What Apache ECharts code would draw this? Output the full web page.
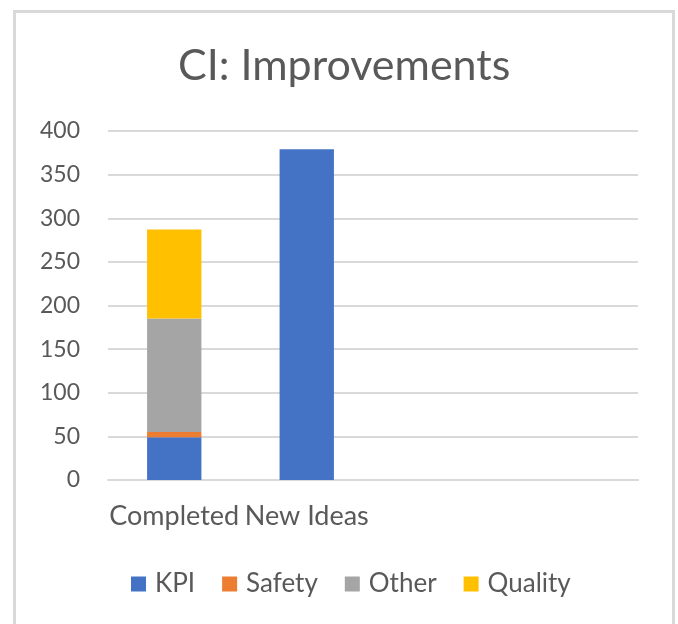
<!DOCTYPE html>
<html>
<head>
<meta charset="utf-8">
<script src="https://cdn.jsdelivr.net/npm/echarts@6/dist/echarts.min.js"></script>
<style>
html,body{margin:0;padding:0;background:#fff;}
#chart{width:678px;height:624px;}
</style>
</head>
<body>
<div id="chart"></div>
<script>
const categories = ['Completed', 'New Ideas', '', ''];
const kpi = [49, 379, null, null];
const safety = [6, null, null, null];
const other = [130, null, null, null];
const quality = [102, null, null, null];
const yTicks = {min: 0, max: 400, interval: 50};

const FONT = 'Lato';
const TXT = '#595959';
const chart = echarts.init(document.getElementById('chart'));
function bar(name, data, color) {
  return {
    name: name, type: 'bar', stack: 'total', data: data,
    barWidth: '41%',
    itemStyle: {color: color},
    emphasis: {disabled: true}
  };
}
chart.setOption({
  animation: false,
  textStyle: {fontFamily: FONT},
  graphic: [{
    type: 'rect', silent: true,
    shape: {x: 14.5, y: 11.5, width: 659, height: 700},
    style: {fill: 'none', stroke: '#d9d9d9', lineWidth: 3}
  }],
  title: {
    text: 'CI: Improvements', left: 173, top: 40,
    textStyle: {fontFamily: FONT, fontSize: 43, fontWeight: 'normal', color: TXT}
  },
  legend: {
    left: 126, top: 566, itemWidth: 15, itemHeight: 15, itemGap: 27,
    icon: 'rect',
    textStyle: {fontFamily: FONT, fontSize: 26, color: TXT, padding: [0, 0, 0, 4]},
    data: ['KPI', 'Safety', 'Other', 'Quality']
  },
  grid: {left: 108, right: 40, top: 131, bottom: 144},
  xAxis: {
    type: 'category', data: categories,
    axisLine: {lineStyle: {color: '#d9d9d9', width: 2}},
    axisTick: {show: false},
    axisLabel: {fontFamily: FONT, fontSize: 27, color: TXT, margin: 23, interval: 0}
  },
  yAxis: {
    type: 'value', min: yTicks.min, max: yTicks.max, interval: yTicks.interval,
    axisLine: {show: false}, axisTick: {show: false},
    splitLine: {lineStyle: {color: '#d9d9d9', width: 2}},
    axisLabel: {fontFamily: FONT, fontSize: 23, color: TXT, margin: 28}
  },
  series: [
    bar('KPI', kpi, '#4472c4'),
    bar('Safety', safety, '#ed7d31'),
    bar('Other', other, '#a5a5a5'),
    bar('Quality', quality, '#ffc000')
  ]
});
</script>
</body>
</html>
